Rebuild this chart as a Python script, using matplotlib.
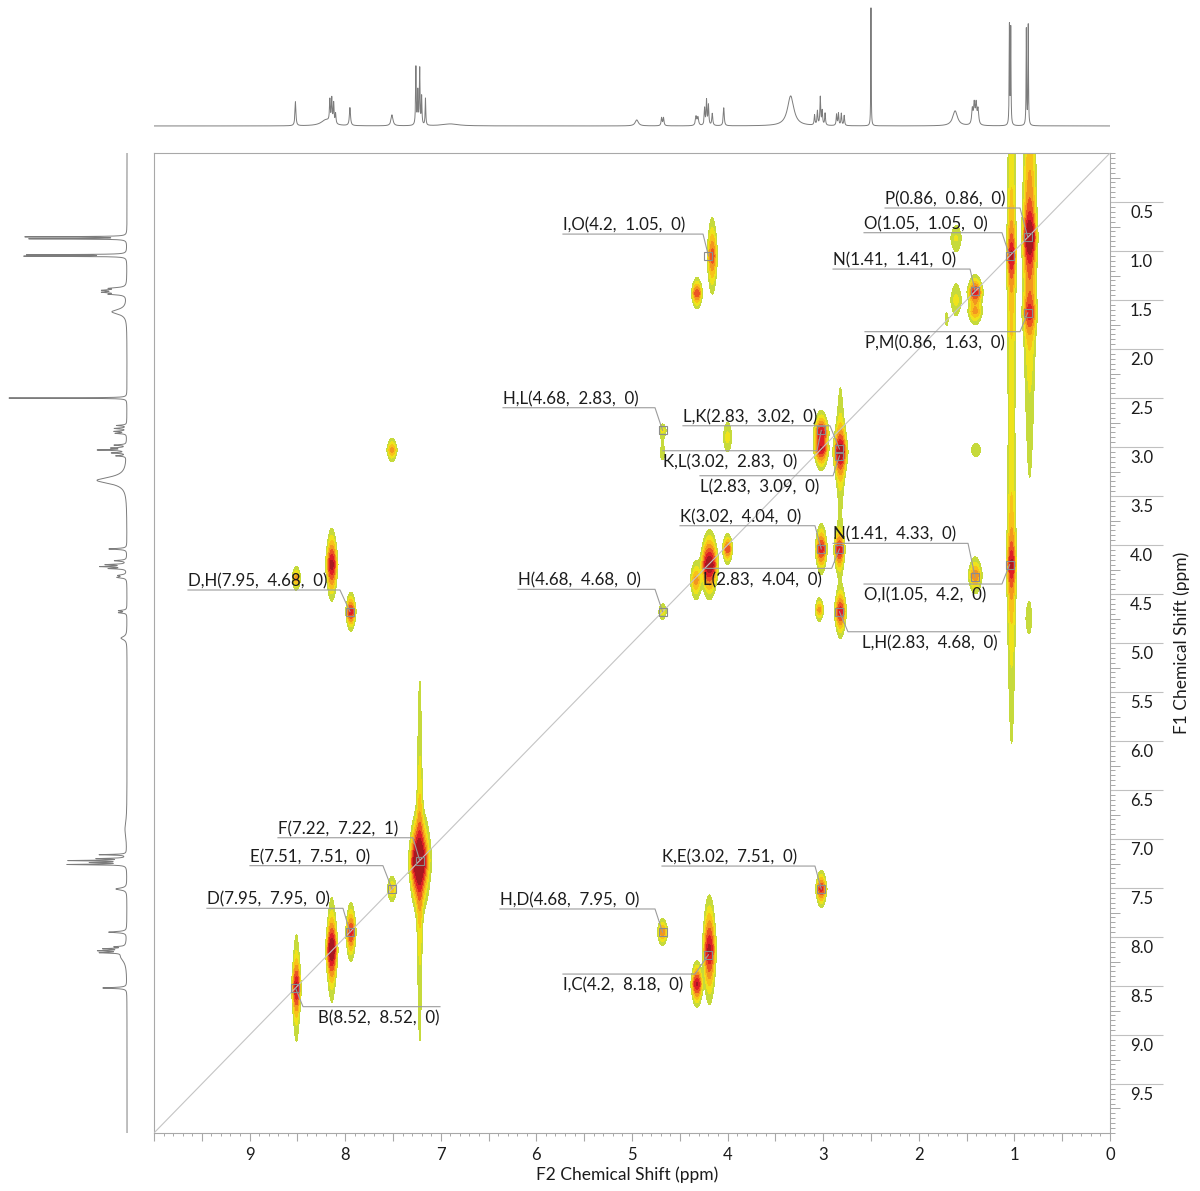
import numpy as np
import matplotlib
matplotlib.use("Agg")
import matplotlib.pyplot as plt
from matplotlib.ticker import MultipleLocator, FixedLocator, FuncFormatter, NullLocator
from matplotlib.transforms import ScaledTranslation, blended_transform_factory

plt.rcParams['font.family'] = ['Lato', 'DejaVu Sans']

# ---- 1D proton spectrum: line position (ppm), height, half width (ppm)
h1_ppm = [8.52, 8.20, 8.16, 8.14, 8.12, 8.10, 7.95, 7.51, 7.26, 7.24, 7.22, 7.20, 7.16,
          6.90, 4.95, 4.69, 4.67, 4.33, 4.31, 4.24, 4.22, 4.20, 4.16, 4.04, 3.34,
          3.09, 3.06, 3.03, 3.01, 2.98, 2.86, 2.84, 2.81, 2.78, 2.50, 1.62,
          1.44, 1.42, 1.40, 1.38, 1.052, 1.038, 0.875, 0.855]
h1_height = [24, 6, 22, 24, 20, 10, 18, 11, 58, 33, 56, 28, 27,
             2, 6, 8, 8, 9, 8, 17, 25, 20, 12, 18, 30,
             10, 14, 28, 14, 12, 11, 12, 12, 10, 118, 15,
             15, 20, 20, 15, 99, 96, 96, 100]
h1_width = [0.006, 0.06, 0.005, 0.005, 0.005, 0.005, 0.007, 0.012, 0.004, 0.004, 0.004, 0.004, 0.004,
            0.1, 0.02, 0.006, 0.006, 0.008, 0.008, 0.005, 0.005, 0.005, 0.006, 0.006, 0.04,
            0.005, 0.005, 0.005, 0.005, 0.005, 0.005, 0.005, 0.005, 0.005, 0.0025, 0.03,
            0.008, 0.008, 0.008, 0.008, 0.003, 0.003, 0.003, 0.003]

# ---- 2D COSY cross peaks: F2, F1 (ppm), half extents at lowest level (ppm), intensity
pk_f2 = [8.51, 8.14, 7.94, 7.51, 7.23, 7.16,
         8.51, 8.14, 7.94, 7.51,
         4.68, 4.68, 4.00, 4.68, 4.68, 4.32, 4.19, 3.02,
         4.19, 4.33, 4.00, 3.02, 2.83, 3.04, 2.82,
         3.02, 3.02, 2.82, 4.16, 4.32,
         1.40, 1.41, 1.61, 1.61, 1.41, 1.41, 1.71, 0.85,
         1.03, 1.03, 0.84, 0.84]
pk_f1 = [8.52, 8.13, 7.95, 7.51, 7.23, 7.22,
         4.34, 4.20, 4.68, 3.03,
         2.83, 3.06, 2.90, 4.68, 7.95, 8.48, 8.13, 7.51,
         4.20, 4.36, 4.04, 4.04, 4.05, 4.66, 4.68,
         2.85, 3.02, 3.05, 1.05, 1.43,
         3.03, 4.31, 0.87, 1.50, 1.42, 1.62, 1.70, 4.75,
         1.05, 4.20, 0.86, 1.63]
pk_hx = [0.05, 0.065, 0.055, 0.05, 0.11, 0.06,
         0.045, 0.065, 0.055, 0.055,
         0.035, 0.025, 0.045, 0.04, 0.055, 0.065, 0.075, 0.06,
         0.10, 0.06, 0.055, 0.065, 0.06, 0.045, 0.065,
         0.08, 0.08, 0.08, 0.055, 0.06,
         0.05, 0.075, 0.055, 0.055, 0.085, 0.075, 0.015, 0.02,
         0.05, 0.05, 0.08, 0.075]
pk_hy = [0.36, 0.40, 0.30, 0.13, 0.55, 0.30,
         0.12, 0.37, 0.20, 0.12,
         0.06, 0.07, 0.15, 0.08, 0.14, 0.24, 0.56, 0.19,
         0.36, 0.20, 0.16, 0.26, 0.25, 0.12, 0.26,
         0.22, 0.22, 0.32, 0.39, 0.16,
         0.07, 0.19, 0.13, 0.16, 0.18, 0.13, 0.06, 0.07,
         0.35, 0.35, 0.40, 0.25]
pk_amp = [15, 22, 12, 4, 32, 2.5,
          6, 17, 13, 6,
          2.2, 1.5, 2.6, 2.6, 7, 15, 16, 12,
          22, 6, 10, 13, 13, 6, 13,
          13, 13, 18, 9, 10,
          1.6, 7, 2.2, 2.5, 12, 5, 1.3, 1.3,
          12, 12, 20, 9]

# t1 ridges (long vertical streaks): F2, F1, half extents, intensity
rd_f2 = [7.22, 8.51, 8.14, 2.82, 1.03, 1.03, 0.84]
rd_f1 = [7.22, 8.52, 8.13, 3.05, 1.05, 4.20, 0.86]
rd_hx = [0.03, 0.025, 0.03, 0.035, 0.045, 0.045, 0.075]
rd_hy = [1.85, 0.48, 0.42, 0.65, 2.08, 1.56, 2.45]
rd_amp = [4, 2, 2, 2.5, 4, 4, 7]

levels = [1, 2, 3.2, 4.8, 7, 10, 14, 500]
level_colors = ['#c6da3c', '#efe31b', '#f8c11a', '#f3961f', '#ec5523', '#de1f26', '#a81820']

# ---- annotations
ann_text = ['P(0.86,  0.86,  0)', 'O(1.05,  1.05,  0)', 'N(1.41,  1.41,  0)', 'P,M(0.86,  1.63,  0)',
            'I,O(4.2,  1.05,  0)', 'H,L(4.68,  2.83,  0)', 'L,K(2.83,  3.02,  0)', 'K,L(3.02,  2.83,  0)',
            'L(2.83,  3.09,  0)', 'K(3.02,  4.04,  0)', 'L(2.83,  4.04,  0)', 'N(1.41,  4.33,  0)',
            'O,I(1.05,  4.2,  0)', 'L,H(2.83,  4.68,  0)', 'H(4.68,  4.68,  0)', 'D,H(7.95,  4.68,  0)',
            'F(7.22,  7.22,  1)', 'E(7.51,  7.51,  0)', 'D(7.95,  7.95,  0)', 'B(8.52,  8.52,  0)',
            'K,E(3.02,  7.51,  0)', 'H,D(4.68,  7.95,  0)', 'I,C(4.2,  8.18,  0)']
ann_f2 = [0.86, 1.05, 1.41, 0.86, 4.2, 4.68, 2.83, 3.02, 2.83, 3.02, 2.83, 1.41,
          1.05, 2.83, 4.68, 7.95, 7.22, 7.51, 7.95, 8.52, 3.02, 4.68, 4.2]
ann_f1 = [0.86, 1.05, 1.41, 1.63, 1.05, 2.83, 3.02, 2.83, 3.09, 4.04, 4.04, 4.33,
          4.2, 4.68, 4.68, 4.68, 7.22, 7.51, 7.95, 8.52, 7.51, 7.95, 8.18]
ann_tx = [2.353, 2.573, 2.897, 2.563, 5.722, 6.349, 4.467, 4.676, 4.289, 4.498, 4.257, 2.897,
          2.573, 2.594, 6.192, 9.644, 8.703, 8.996, 9.446, 8.285, 4.686, 6.381, 5.722]
ann_x0 = [2.353, 2.573, 2.897, 2.563, 5.722, 6.349, 4.467, 4.676, 4.289, 4.498, 4.257, 2.897,
          2.573, 2.741, 6.192, 9.644, 8.703, 8.996, 9.446, 8.441, 4.686, 6.381, 5.722]
ann_x1 = [0.941, 1.130, 1.464, 0.941, 4.257, 4.759, 2.929, 3.065, 2.897, 3.086, 2.911, 1.485,
          1.130, 1.151, 4.759, 8.054, 7.291, 7.605, 8.023, 7.008, 3.086, 4.759, 4.341]
ann_ly = [0.561, 0.813, 1.184, 1.823, 0.827, 2.599, 2.783, 3.038, 3.293, 3.803, 4.238, 3.983,
          4.398, 4.885, 4.452, 4.459, 6.987, 7.272, 7.707, 8.711, 7.276, 7.714, 8.378]
ann_below = [0, 0, 0, 1, 0, 0, 0, 1, 1, 0, 1, 0, 1, 1, 0, 0, 0, 0, 0, 1, 0, 0, 1]

x_major = np.arange(0, 10.01, 0.5)
y_major = np.arange(0.5, 9.51, 0.5)
y_mid = np.arange(0.25, 10, 0.5)

grey = '#a8a8a8'
txt = '#1c1c1c'

fig = plt.figure(figsize=(12, 11.91), dpi=100)
ax = fig.add_axes([0.1283, 0.0487, 0.7967, 0.8228])
ax_top = fig.add_axes([0.1283, 0.8934, 0.7967, 0.1050])
ax_left = fig.add_axes([0.0025, 0.0487, 0.1042, 0.8228])

# 1D spectrum from the line list
ppm = np.linspace(0, 10, 40000)
spec = np.zeros_like(ppm)
for p, h, w in zip(h1_ppm, h1_height, h1_width):
    spec += h / (1 + ((ppm - p) / w) ** 2)

ax_top.plot(ppm, spec, color='#7c7c7c', lw=0.7)
ax_top.set_xlim(10, 0)
ax_top.set_ylim(-1, 124)
ax_top.axis('off')

ax_left.plot(spec, ppm, color='#7c7c7c', lw=0.7)
ax_left.set_xlim(124, -1)
ax_left.set_ylim(10, 0)
ax_left.axis('off')

# 2D contour map
gx = np.linspace(0, 10, 1600)
gy = np.linspace(0, 10, 1300)
Z = np.zeros((gy.size, gx.size))
q = 1.3
for x0, y0, hx, hy, a in zip(pk_f2, pk_f1, pk_hx, pk_hy, pk_amp):
    sx = hx / np.sqrt(2 * np.log(a))
    s = hy / np.log(a) ** (1 / q)
    Z += a * np.outer(np.exp(-(np.abs(gy - y0) / s) ** q), np.exp(-0.5 * ((gx - x0) / sx) ** 2))
for x0, y0, hx, hy, a in zip(rd_f2, rd_f1, rd_hx, rd_hy, rd_amp):
    sx = hx / np.sqrt(2 * np.log(a))
    gam = hy / np.sqrt(a - 1)
    Z += a * np.outer(1 / (1 + ((gy - y0) / gam) ** 2), np.exp(-0.5 * ((gx - x0) / sx) ** 2))

ax.contourf(gx, gy, Z, levels=levels, colors=level_colors, zorder=1)
ax.plot([0, 10], [0, 10], color='#c4c4c4', lw=0.8, zorder=3)

for i in range(len(ann_text)):
    px, py = ann_f2[i], ann_f1[i]
    x0, x1, ly = ann_x0[i], ann_x1[i], ann_ly[i]
    if abs(x0 - px) < abs(x1 - px):
        xs, ys = [px, x0, x1], [py, ly, ly]
    else:
        xs, ys = [x0, x1, px], [ly, ly, py]
    ax.plot(xs, ys, color='#9c9c9c', lw=0.8, zorder=4)
    ax.plot(px, py, 's', ms=6, mfc='none', mec='#8c8c8c', mew=0.8, zorder=5)
    if ann_below[i]:
        off = ScaledTranslation(0, -2.5 / 72, fig.dpi_scale_trans)
        va = 'top'
    else:
        off = ScaledTranslation(0, 0.5 / 72, fig.dpi_scale_trans)
        va = 'bottom'
    ax.text(ann_tx[i], ly, ann_text[i], ha='left', va=va, fontsize=12.2,
            color=txt, transform=ax.transData + off, zorder=6)

ax.set_xlim(10, 0)
ax.set_ylim(10, 0)
for s in ax.spines.values():
    s.set_color(grey)
    s.set_linewidth(0.8)

# x axis ticks
ax.xaxis.set_major_locator(FixedLocator(x_major))
ax.xaxis.set_major_formatter(FuncFormatter(
    lambda v, p: f'{v:.0f}' if abs(v - round(v)) < 1e-6 and v < 9.5 else ''))
ax.xaxis.set_minor_locator(MultipleLocator(0.1))
ax.tick_params(axis='x', which='major', direction='out', length=6, width=0.8,
               color=grey, labelsize=12, labelcolor=txt, pad=4)
ax.tick_params(axis='x', which='minor', direction='out', length=2.5, width=0.7, color=grey)

# y axis ticks on the right
ax.yaxis.tick_right()
ax.yaxis.set_major_locator(FixedLocator(y_major))
ax.yaxis.set_minor_locator(MultipleLocator(0.05))
ax.tick_params(axis='y', which='major', direction='out', length=38, width=0.8,
               color='#c0c0c0', labelright=False)
ax.tick_params(axis='y', which='minor', direction='out', length=3.5, width=0.7, color=grey)

sec = ax.secondary_yaxis('right')
sec.set_yticks(y_mid)
sec.yaxis.set_minor_locator(NullLocator())
sec.tick_params(axis='y', direction='out', length=7, width=0.7, color=grey, labelright=False)
for s in sec.spines.values():
    s.set_visible(False)

trans = blended_transform_factory(ax.transAxes, ax.transData) + \
    ScaledTranslation(0, -8 / 72, fig.dpi_scale_trans)
for v in y_major:
    ax.text(1.021, v, f'{v:.1f}', ha='left', va='center', fontsize=12,
            color=txt, transform=trans)

fig.text(627 / 1200, 1 - 1175 / 1191, 'F2 Chemical Shift (ppm)', ha='center', va='center',
         fontsize=12.5, color=txt)
fig.text(1182 / 1200, 1 - 643 / 1191, 'F1 Chemical Shift (ppm)', ha='center', va='center',
         rotation=90, fontsize=12.5, color=txt)

fig.savefig('out.png', dpi=100)
